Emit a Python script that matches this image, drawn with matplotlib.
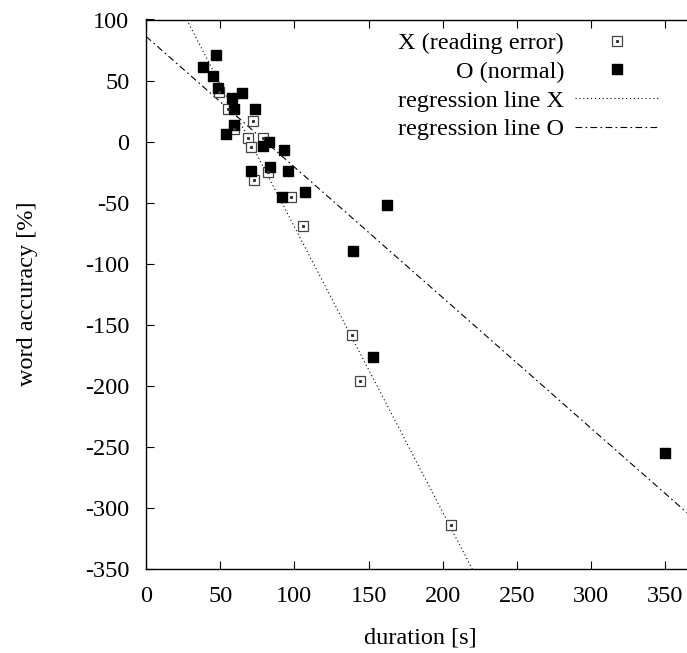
import numpy as np
import matplotlib
matplotlib.use("Agg")
import matplotlib.pyplot as plt
from matplotlib.legend_handler import HandlerTuple

plt.rcParams['font.family'] = ['Liberation Serif', 'DejaVu Serif']
plt.rcParams['axes.unicode_minus'] = False

# X (reading error) points: duration [s], word accuracy [%]
x_dur = [49.4, 55.1, 71.9, 59.3, 68.5, 78.6, 70.6, 82.0, 73.0, 97.9,
         106.0, 138.8, 144.2, 205.5]
x_acc = [40.6, 27.1, 16.5, 10.0, 2.9, 3.1, -4.2, -24.9, -31.7, -45.3,
         -69.0, -158.3, -195.7, -313.6]

# O (normal) points
o_dur = [47.4, 38.6, 45.4, 48.7, 64.9, 58.2, 59.3, 73.7, 59.5, 53.9,
         83.1, 78.6, 93.2, 83.8, 70.8, 95.9, 107.3, 91.8, 162.6, 139.7,
         153.2, 349.9]
o_acc = [71.2, 61.4, 54.1, 44.3, 40.2, 36.1, 27.1, 27.1, 13.2, 5.9,
         -0.7, -3.9, -7.2, -21.1, -24.3, -24.3, -41.3, -45.6, -51.9, -89.7,
         -176.3, -254.7]

# regression lines (intercept, slope)
reg_x = (164.0, -2.338)
reg_o = (86.2, -1.07)

x_max = 370
y_min, y_max = -350, 100
fs = 17.5

fig = plt.figure(figsize=(6.87, 6.53), dpi=100)
ax = fig.add_axes([146 / 687, (653 - 569) / 653, 549 / 687, 549.5 / 653])

xs = np.array([0, x_max])
l_rx, = ax.plot(xs, reg_x[0] + reg_x[1] * xs, color='black', lw=0.8,
                linestyle=(0, (1, 2.5)))
l_ro, = ax.plot(xs, reg_o[0] + reg_o[1] * xs, color='black', lw=0.8,
                linestyle=(0, (6, 3, 1.5, 3)))

sq, = ax.plot(x_dur, x_acc, linestyle='none', marker='s', markersize=6.5,
              markerfacecolor='white', markeredgecolor='#444444',
              markeredgewidth=0.9, zorder=3)
dot, = ax.plot(x_dur, x_acc, linestyle='none', marker='s', markersize=1.2,
               color='#333333', zorder=4)
fo, = ax.plot(o_dur, o_acc, linestyle='none', marker='s', markersize=7.9,
              color='black', zorder=3)

ax.set_xlim(0, x_max)
ax.set_ylim(y_min, y_max)
ax.set_xticks(np.arange(0, 351, 50))
ax.set_yticks(np.arange(-350, 101, 50))
ax.tick_params(direction='in', length=6, width=0.8, top=True, right=True,
               labelsize=fs, pad=12)
for s in ax.spines.values():
    s.set_linewidth(1.0)

ax.set_xlabel('duration [s]', fontsize=fs, labelpad=15)
ax.set_ylabel('word accuracy [%]', fontsize=fs, labelpad=34)

leg = ax.legend([(sq, dot), fo, l_rx, l_ro],
                ['X (reading error)', 'O (normal)', 'regression line X',
                 'regression line O'],
                handler_map={tuple: HandlerTuple(ndivide=1)},
                loc='upper right', bbox_to_anchor=(660 / 687, (653 - 32) / 653),
                bbox_transform=fig.transFigure, frameon=False, markerfirst=False,
                borderpad=0, borderaxespad=0, handlelength=85 / 24.3,
                handletextpad=0.45, labelspacing=0.28, fontsize=fs)

fig.savefig('out.png', dpi=100)
